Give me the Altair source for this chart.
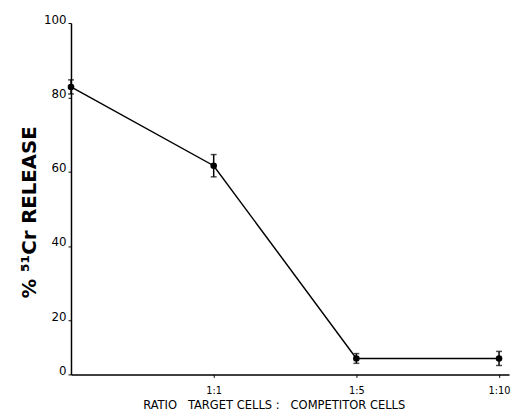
import altair as alt
import pandas as pd

ratios = ["", "1:1", "1:5", "1:10"]
xpos = [0, 1, 2, 3]
release = [82.8, 61.6, 5.9, 5.9]
err = [1.9, 3.0, 1.8, 2.6]
yticks = [0, 20, 40, 60, 80, 100]

df = pd.DataFrame({
    "x": xpos,
    "ratio": ratios,
    "y": release,
    "lo": [v - e for v, e in zip(release, err)],
    "hi": [v + e for v, e in zip(release, err)],
})

H = 357
xs = alt.Scale(domain=[0, 3.07], nice=False, zero=False)
# the original's 0-20 interval is drawn shorter than the others
ys = alt.Scale(domain=[0, 20, 100], range=[H, H - 55, 0], nice=False)

nb = "\u00a0"
xtitle = "RATIO" + nb * 3 + "TARGET" + nb + "CELLS" + nb + ":" + nb * 3 + "COMPETITOR" + nb + "CELLS"

xaxis = alt.Axis(
    values=[1, 2, 3],
    labelExpr="datum.value == 1 ? '1:1' : datum.value == 2 ? '1:5' : '1:10'",
    title=xtitle,
    titleFont="DejaVu Sans Condensed", titleFontSize=13, titleFontWeight="normal",
    titleColor="black", titleX=206, titleY=35, titleAnchor="middle", titleBaseline="alphabetic",
    labelFont="DejaVu Sans Condensed", labelFontSize=11, labelColor="black", labelPadding=7,
    tickSize=3, tickColor="black", domainColor="black", domainWidth=1.5, grid=False,
)
yaxis = alt.Axis(
    values=yticks,
    title="% ⁵¹Cr RELEASE",
    titleFont="DejaVu Sans", titleFontSize=20, titleFontWeight="bold",
    titleColor="black", titleX=-36, titleY=192, titleAngle=270, titleAnchor="middle",
    titleBaseline="alphabetic",
    labelFont="DejaVu Sans", labelFontSize=12, labelColor="black", labelPadding=2,
    labelBaseline="alphabetic",
    tickSize=3, tickColor="black", domainColor="black", domainWidth=1.5, grid=False,
)

base = alt.Chart(df)
line = base.mark_line(color="black", strokeWidth=1.5).encode(
    x=alt.X("x:Q", scale=xs, axis=xaxis),
    y=alt.Y("y:Q", scale=ys, axis=yaxis),
)
pts = base.mark_circle(color="black", size=45, opacity=1).encode(
    x=alt.X("x:Q", scale=xs), y=alt.Y("y:Q", scale=ys)
)
bars = base.mark_rule(color="black", strokeWidth=1.5).encode(
    x=alt.X("x:Q", scale=xs), y=alt.Y("lo:Q", scale=ys), y2="hi:Q"
)
caplo = base.mark_tick(color="black", orient="horizontal", size=6, thickness=1.5).encode(
    x=alt.X("x:Q", scale=xs), y=alt.Y("lo:Q", scale=ys)
)
caphi = base.mark_tick(color="black", orient="horizontal", size=6, thickness=1.5).encode(
    x=alt.X("x:Q", scale=xs), y=alt.Y("hi:Q", scale=ys)
)

chart = (line + bars + caplo + caphi + pts).properties(
    width=445, height=H,
    autosize=alt.AutoSizeParams(type="none"),
    padding={"left": 64, "top": 12, "right": 2, "bottom": 40},
    background="white",
).configure_view(stroke=None, strokeWidth=0)

chart.save("out.html", embed_options={"renderer": "svg", "actions": False})
